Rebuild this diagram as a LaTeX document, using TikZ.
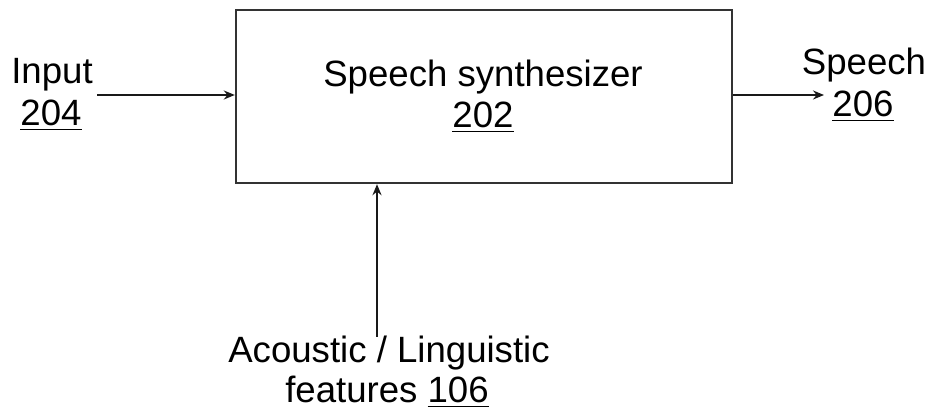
\documentclass[tikz,border=0pt]{standalone}
\usepackage{fontspec}
\setmainfont{Liberation Sans}
\usetikzlibrary{arrows.meta}
\newcommand{\ulnum}[1]{\underline{#1}}
\begin{document}
\begin{tikzpicture}[x=0.5pt,y=-0.5pt,
  lbl/.style={inner sep=0pt, anchor=base, text=black, font=\fontsize{18.3pt}{20pt}\selectfont},
  conn/.style={line width=0.9pt, draw=black!90, -{Stealth[length=5.5pt,width=4.5pt]}},
  blockbox/.style={draw=black!80, line width=1.2pt, minimum width=248pt, minimum height=86.5pt, inner sep=0pt}]
\useasboundingbox (0,0) rectangle (929,415);
\node[blockbox] (box) at (484,96.5) {};
\node[lbl] (title) at (483,87) {Speech synthesizer};
\node[lbl] (num) at (483,128) {\ulnum{202}};
\node[lbl] (inp) at (52,84) {Input};
\node[lbl] (inpn) at (51,126) {\ulnum{204}};
\node[lbl] (outp) at (864,75) {Speech};
\node[lbl] (outpn) at (863,117) {\ulnum{206}};
\node[lbl] (feat) at (389,363) {Acoustic / Linguistic};
\node[lbl] (featn) at (387,403) {features \ulnum{106}};
\coordinate (inS) at (97,95);
\coordinate (outE) at (824,95);
\coordinate (featS) at (377,337);
\draw[conn] (inS) -- (inS -| box.west);
\draw[conn] (outE -| box.east) -- (outE);
\draw[conn] (featS) -- (featS |- box.south);
\end{tikzpicture}
\end{document}
